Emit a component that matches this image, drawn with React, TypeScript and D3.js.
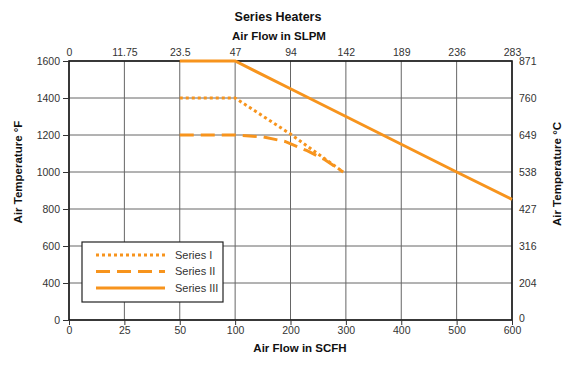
import React, { useEffect, useRef } from "react";
import * as d3 from "d3";

// bottom axis (SCFH) and matching top axis (SLPM) labels, evenly spaced
const scfhTicks = [0, 25, 50, 100, 200, 300, 400, 500, 600];
const slpmLabels = ["0", "11.75", "23.5", "47", "94", "142", "189", "236", "283"];
// left axis (°F) and matching right axis (°C), evenly spaced
const fTicks = [0, 400, 600, 800, 1000, 1200, 1400, 1600];
const cLabels = ["0", "204", "316", "427", "538", "649", "760", "871"];

const seriesNames = ["Series I", "Series II", "Series III"];
const seriesI = [
  { x: 50, y: 1400 },
  { x: 100, y: 1400 },
  { x: 200, y: 1205 },
  { x: 295, y: 1000 },
];
const seriesII = [
  { x: 50, y: 1200 },
  { x: 100, y: 1200 },
  { x: 150, y: 1190 },
  { x: 190, y: 1165 },
  { x: 230, y: 1115 },
  { x: 260, y: 1070 },
  { x: 295, y: 1000 },
];
const seriesIII = [
  { x: 50, y: 1600 },
  { x: 100, y: 1600 },
  { x: 200, y: 1450 },
  { x: 300, y: 1300 },
  { x: 400, y: 1150 },
  { x: 500, y: 1000 },
  { x: 600, y: 852 },
];

const App = () => {
  const ref = useRef<SVGSVGElement>(null);

  useEffect(() => {
    const svg = d3.select(ref.current);
    svg.selectAll("*").remove();

    const width = 566;
    const height = 365;
    const left = 69;
    const right = 512;
    const top = 61;
    const bottom = 320;
    const orange = "#F7941D";
    const font = "'Liberation Sans', Arial, sans-serif";
    const tickColor = "#333";

    const xStep = (right - left) / (scfhTicks.length - 1);
    const yStep = (bottom - top) / (fTicks.length - 1);
    const x = d3.scaleLinear()
      .domain(scfhTicks)
      .range(scfhTicks.map((_, i) => left + i * xStep));
    const y = d3.scaleLinear()
      .domain(fTicks)
      .range(fTicks.map((_, i) => bottom - i * yStep));

    svg.attr("width", width).attr("height", height)
      .style("font-family", font);

    svg.append("rect").attr("width", width).attr("height", height).attr("fill", "white");

    // grid
    const grid = svg.append("g").attr("stroke", "#666").attr("stroke-width", 1);
    grid.selectAll("line.v")
      .data(scfhTicks)
      .join("line")
      .attr("x1", d => x(d)).attr("x2", d => x(d))
      .attr("y1", top).attr("y2", bottom);
    grid.selectAll("line.h")
      .data(fTicks)
      .join("line")
      .attr("class", "h")
      .attr("x1", left).attr("x2", right)
      .attr("y1", d => y(d)).attr("y2", d => y(d));

    // frame
    svg.append("rect")
      .attr("x", left).attr("y", top)
      .attr("width", right - left).attr("height", bottom - top)
      .attr("fill", "none").attr("stroke", "#1a1a1a").attr("stroke-width", 1.6);

    // left axis
    const la = svg.append("g").attr("transform", `translate(${left},0)`)
      .call(d3.axisLeft(y).tickValues(fTicks).tickSize(6).tickPadding(3).tickFormat(d3.format("d")));
    // bottom axis
    const ba = svg.append("g").attr("transform", `translate(0,${bottom})`)
      .call(d3.axisBottom(x).tickValues(scfhTicks).tickSize(5).tickPadding(2));
    // top axis
    const ta = svg.append("g").attr("transform", `translate(0,${top})`)
      .call(d3.axisTop(x).tickValues(scfhTicks).tickSize(0).tickPadding(5)
        .tickFormat((_, i) => slpmLabels[i]));
    // right axis
    const ra = svg.append("g").attr("transform", `translate(${right},0)`)
      .call(d3.axisRight(y).tickValues(fTicks).tickSize(0).tickPadding(7)
        .tickFormat((_, i) => cLabels[i]));

    [la, ba, ta, ra].forEach(g => {
      g.select(".domain").remove();
      g.selectAll("line").attr("stroke", "#333");
      g.selectAll("text")
        .attr("fill", tickColor)
        .style("font-family", font)
        .style("font-size", "10.5px");
    });
    ra.selectAll("text").filter((d: any) => d === 0).attr("dy", "0.1em");

    // series
    const line = d3.line<{ x: number; y: number }>().x(d => x(d.x)).y(d => y(d.y));
    const styles = [
      { data: seriesI, dash: "3,3" },
      { data: seriesII, dash: "14,7" },
      { data: seriesIII, dash: null },
    ];
    styles.forEach(s => {
      svg.append("path")
        .datum(s.data)
        .attr("fill", "none")
        .attr("stroke", orange)
        .attr("stroke-width", 3)
        .attr("stroke-dasharray", s.dash)
        .attr("d", line);
    });

    // legend
    const lg = svg.append("g");
    lg.append("rect")
      .attr("x", 82).attr("y", 242).attr("width", 141).attr("height", 60)
      .attr("fill", "white").attr("stroke", "#222").attr("stroke-width", 1.2);
    seriesNames.forEach((name, i) => {
      const ly = 255 + i * 16.5;
      lg.append("line")
        .attr("x1", 96).attr("x2", 165).attr("y1", ly).attr("y2", ly)
        .attr("stroke", orange).attr("stroke-width", 3)
        .attr("stroke-dasharray", styles[i].dash);
      lg.append("text")
        .attr("x", 175).attr("y", ly).attr("dy", "0.35em")
        .attr("fill", tickColor).style("font-size", "11px")
        .text(name);
    });

    // titles
    svg.append("text")
      .attr("x", 278).attr("y", 21).attr("text-anchor", "middle")
      .style("font-size", "12.5px").style("font-weight", "bold").attr("fill", "#111")
      .text("Series Heaters");
    svg.append("text")
      .attr("x", 279).attr("y", 40).attr("text-anchor", "middle")
      .style("font-size", "11.5px").style("font-weight", "bold").attr("fill", "#111")
      .text("Air Flow in SLPM");
    svg.append("text")
      .attr("x", 300).attr("y", 352).attr("text-anchor", "middle")
      .style("font-size", "11.5px").style("font-weight", "bold").attr("fill", "#111")
      .text("Air Flow in SCFH");
    svg.append("text")
      .attr("transform", "translate(22,172) rotate(-90)").attr("text-anchor", "middle")
      .style("font-size", "11.5px").style("font-weight", "bold").attr("fill", "#111")
      .text("Air Temperature °F");
    svg.append("text")
      .attr("transform", "translate(561,174) rotate(-90)").attr("text-anchor", "middle")
      .style("font-size", "11.5px").style("font-weight", "bold").attr("fill", "#111")
      .text("Air Temperature °C");
  }, []);

  return (
    <div style={{ position: "absolute", left: 0, top: 0 }}>
      <svg ref={ref} style={{ display: "block" }} />
    </div>
  );
};

export default App;
